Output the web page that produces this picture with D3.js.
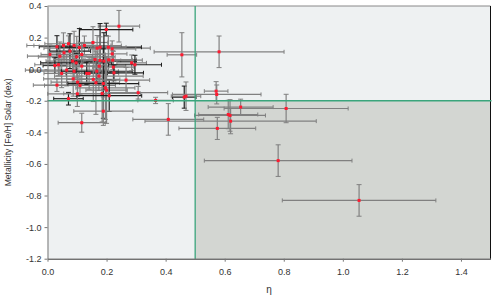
<!DOCTYPE html>
<html><head><meta charset="utf-8">
<script src="https://cdn.jsdelivr.net/npm/d3@7"></script>
<style>body{margin:0;background:#fff}svg{display:block;font-family:"Liberation Sans",Arial,sans-serif}</style>
</head><body>
<svg id="c" width="493" height="306"></svg>
<script>
const eta = [
0.242,0.199,0.581,0.455,0.008,0.032,0.054,0.071,0.090,0.108,
0.125,0.154,0.168,0.178,0.206,0.219,0.042,0.076,0.056,0.099,
0.085,0.025,0.037,0.065,0.048,0.097,0.116,0.090,0.087,0.133,
0.102,0.110,0.032,0.071,0.101,0.116,0.141,0.167,0.175,0.161,
0.178,0.191,0.207,0.221,0.223,0.225,0.174,0.155,0.164,0.189,
0.196,0.200,0.185,0.209,0.189,0.266,0.285,0.296,0.307,0.366,
0.409,0.463,0.469,0.571,0.573,0.654,0.612,0.618,0.620,0.575,
0.808,0.781,1.055,0.219,0.116];
const feh = [
0.272,0.251,0.110,0.091,0.093,0.142,0.150,0.161,0.150,0.137,
0.150,0.169,0.133,0.139,0.139,0.129,0.082,0.114,0.104,0.078,
0.051,0.023,0.028,-0.006,-0.027,0.040,0.019,-0.013,-0.061,-0.027,
-0.082,-0.103,-0.101,-0.187,-0.156,-0.339,-0.027,-0.013,0.019,0.061,
0.055,0.051,0.059,0.057,0.013,-0.023,-0.044,-0.065,-0.086,-0.091,
-0.118,-0.133,-0.154,-0.168,-0.266,-0.069,0.040,0.028,-0.149,-0.198,
-0.318,-0.177,-0.171,-0.139,-0.160,-0.240,-0.287,-0.293,-0.329,-0.375,
-0.249,-0.579,-0.831,0.097,0.093];
const etaErr = [
0.07,0.09,0.22,0.05,0.03,0.06,0.10,0.08,0.16,0.07,
0.09,0.05,0.18,0.14,0.06,0.08,0.11,0.07,0.05,0.13,
0.09,0.04,0.08,0.14,0.06,0.12,0.08,0.15,0.10,0.07,
0.09,0.12,0.08,0.05,0.10,0.08,0.10,0.12,0.09,0.14,
0.07,0.11,0.08,0.10,0.07,0.10,0.15,0.09,0.08,0.12,
0.10,0.07,0.13,0.11,0.10,0.08,0.05,0.09,0.10,0.06,
0.12,0.04,0.05,0.04,0.15,0.11,0.10,0.12,0.29,0.13,
0.21,0.25,0.26,0.05,0.08];
const fehErr = [
0.10,0.04,0.10,0.14,0.06,0.07,0.08,0.05,0.09,0.12,
0.06,0.10,0.08,0.15,0.07,0.05,0.09,0.11,0.06,0.13,
0.08,0.05,0.07,0.10,0.09,0.06,0.12,0.08,0.11,0.07,
0.09,0.06,0.04,0.04,0.08,0.06,0.10,0.07,0.12,0.09,
0.15,0.18,0.08,0.06,0.10,0.05,0.09,0.14,0.20,0.22,
0.20,0.21,0.18,0.10,0.09,0.08,0.05,0.06,0.04,0.02,
0.10,0.07,0.09,0.06,0.06,0.05,0.09,0.10,0.08,0.07,
0.09,0.10,0.10,0.05,0.07];
const xTicks = [0.0,0.2,0.4,0.6,0.8,1.0,1.2,1.4];
const yTicks = [0.4,0.2,0.0,-0.2,-0.4,-0.6,-0.8,-1.0,-1.2];
const etaCut = 0.5, fehCut = -0.2;
const xTitle = "η", yTitle = "Metallicity [Fe/H] Solar (dex)";

const svg = d3.select("#c");
const x = d3.scaleLinear().domain([0,1.5]).range([47.5,490.5]);
const y = d3.scaleLinear().domain([-1.2,0.4]).range([258.7,6]);
const [x0,x1] = x.range(), [y1,y0] = y.range();

// backgrounds
svg.append("rect").attr("x",x0).attr("y",y0).attr("width",x1-x0).attr("height",y1-y0).attr("fill","#eef1f2");
svg.append("rect").attr("x",x(etaCut)).attr("y",y(fehCut)).attr("width",x1-x(etaCut)).attr("height",y1-y(fehCut)).attr("fill","#d3d6d2");

// frame
svg.append("line").attr("x1",x0).attr("x2",x1).attr("y1",y0).attr("y2",y0).attr("stroke","#888").attr("stroke-width",1);
svg.append("line").attr("x1",x1).attr("x2",x1).attr("y1",y0).attr("y2",y1).attr("stroke","#111").attr("stroke-width",1);

// error bars and points
const data = eta.map((e,i)=>({e, f:feh[i], ee:etaErr[i], fe:fehErr[i], i}));
const g = svg.append("g");
data.forEach(d=>{
  const col = (d.i%4===1 && d.i<62) ? "#1e1e1e" : "#808080";
  const cx = x(d.e), cy = y(d.f);
  const xa = x(d.e-d.ee), xb = x(d.e+d.ee), ya = y(d.f+d.fe), yb = y(d.f-d.fe);
  g.append("line").attr("x1",xa).attr("x2",xb).attr("y1",cy).attr("y2",cy).attr("stroke",col).attr("stroke-width",1.2);
  g.append("line").attr("x1",xa).attr("x2",xa).attr("y1",cy-2).attr("y2",cy+2).attr("stroke",col);
  g.append("line").attr("x1",xb).attr("x2",xb).attr("y1",cy-2).attr("y2",cy+2).attr("stroke",col);
  g.append("line").attr("x1",cx).attr("x2",cx).attr("y1",ya).attr("y2",yb).attr("stroke",col).attr("stroke-width",1.2);
  g.append("line").attr("x1",cx-2.5).attr("x2",cx+2.5).attr("y1",ya).attr("y2",ya).attr("stroke",col);
  g.append("line").attr("x1",cx-2.5).attr("x2",cx+2.5).attr("y1",yb).attr("y2",yb).attr("stroke",col);
});
svg.append("g").selectAll("rect").data(data).join("rect")
  .attr("x",d=>x(d.e)-1.5).attr("y",d=>y(d.f)-1.5).attr("width",3).attr("height",3).attr("fill","#ff1a30");

// threshold lines
svg.append("line").attr("x1",x(etaCut)).attr("x2",x(etaCut)).attr("y1",y0).attr("y2",y1).attr("stroke","#3aa57c").attr("stroke-width",1.3);
svg.append("line").attr("x1",x0).attr("x2",x1+1).attr("y1",y(fehCut)).attr("y2",y(fehCut)).attr("stroke","#3aa57c").attr("stroke-width",1.6);

// axes
const ax = svg.append("g").attr("transform",`translate(0,${y1})`)
  .call(d3.axisBottom(x).tickValues(xTicks).tickFormat(d3.format(".1f")).tickSize(3).tickSizeOuter(0));
const ay = svg.append("g").attr("transform",`translate(${x0},0)`)
  .call(d3.axisLeft(y).tickValues(yTicks).tickFormat(d=>d3.format(".1f")(d).replace("−","-")).tickSize(3).tickSizeOuter(0));
[ax,ay].forEach(a=>{
  a.selectAll("text").attr("font-size",9).attr("fill","#333").attr("font-family","Liberation Sans, Arial, sans-serif");
  a.select(".domain").attr("stroke","#777");
  a.selectAll(".tick line").attr("stroke","#777");
});
ax.select(".domain").attr("stroke","#333");
ax.selectAll("text").attr("dy","1.2em");
ay.selectAll("text").attr("x",-6);

svg.append("text").attr("x",(x0+x1)/2).attr("y",293).attr("text-anchor","middle")
  .attr("font-size",10).attr("fill","#333").text(xTitle);
svg.append("text").attr("transform",`translate(11,${(y0+y1)/2}) rotate(-90)`).attr("text-anchor","middle")
  .attr("font-size",8.6).attr("fill","#333").text(yTitle);
</script>
</body></html>
